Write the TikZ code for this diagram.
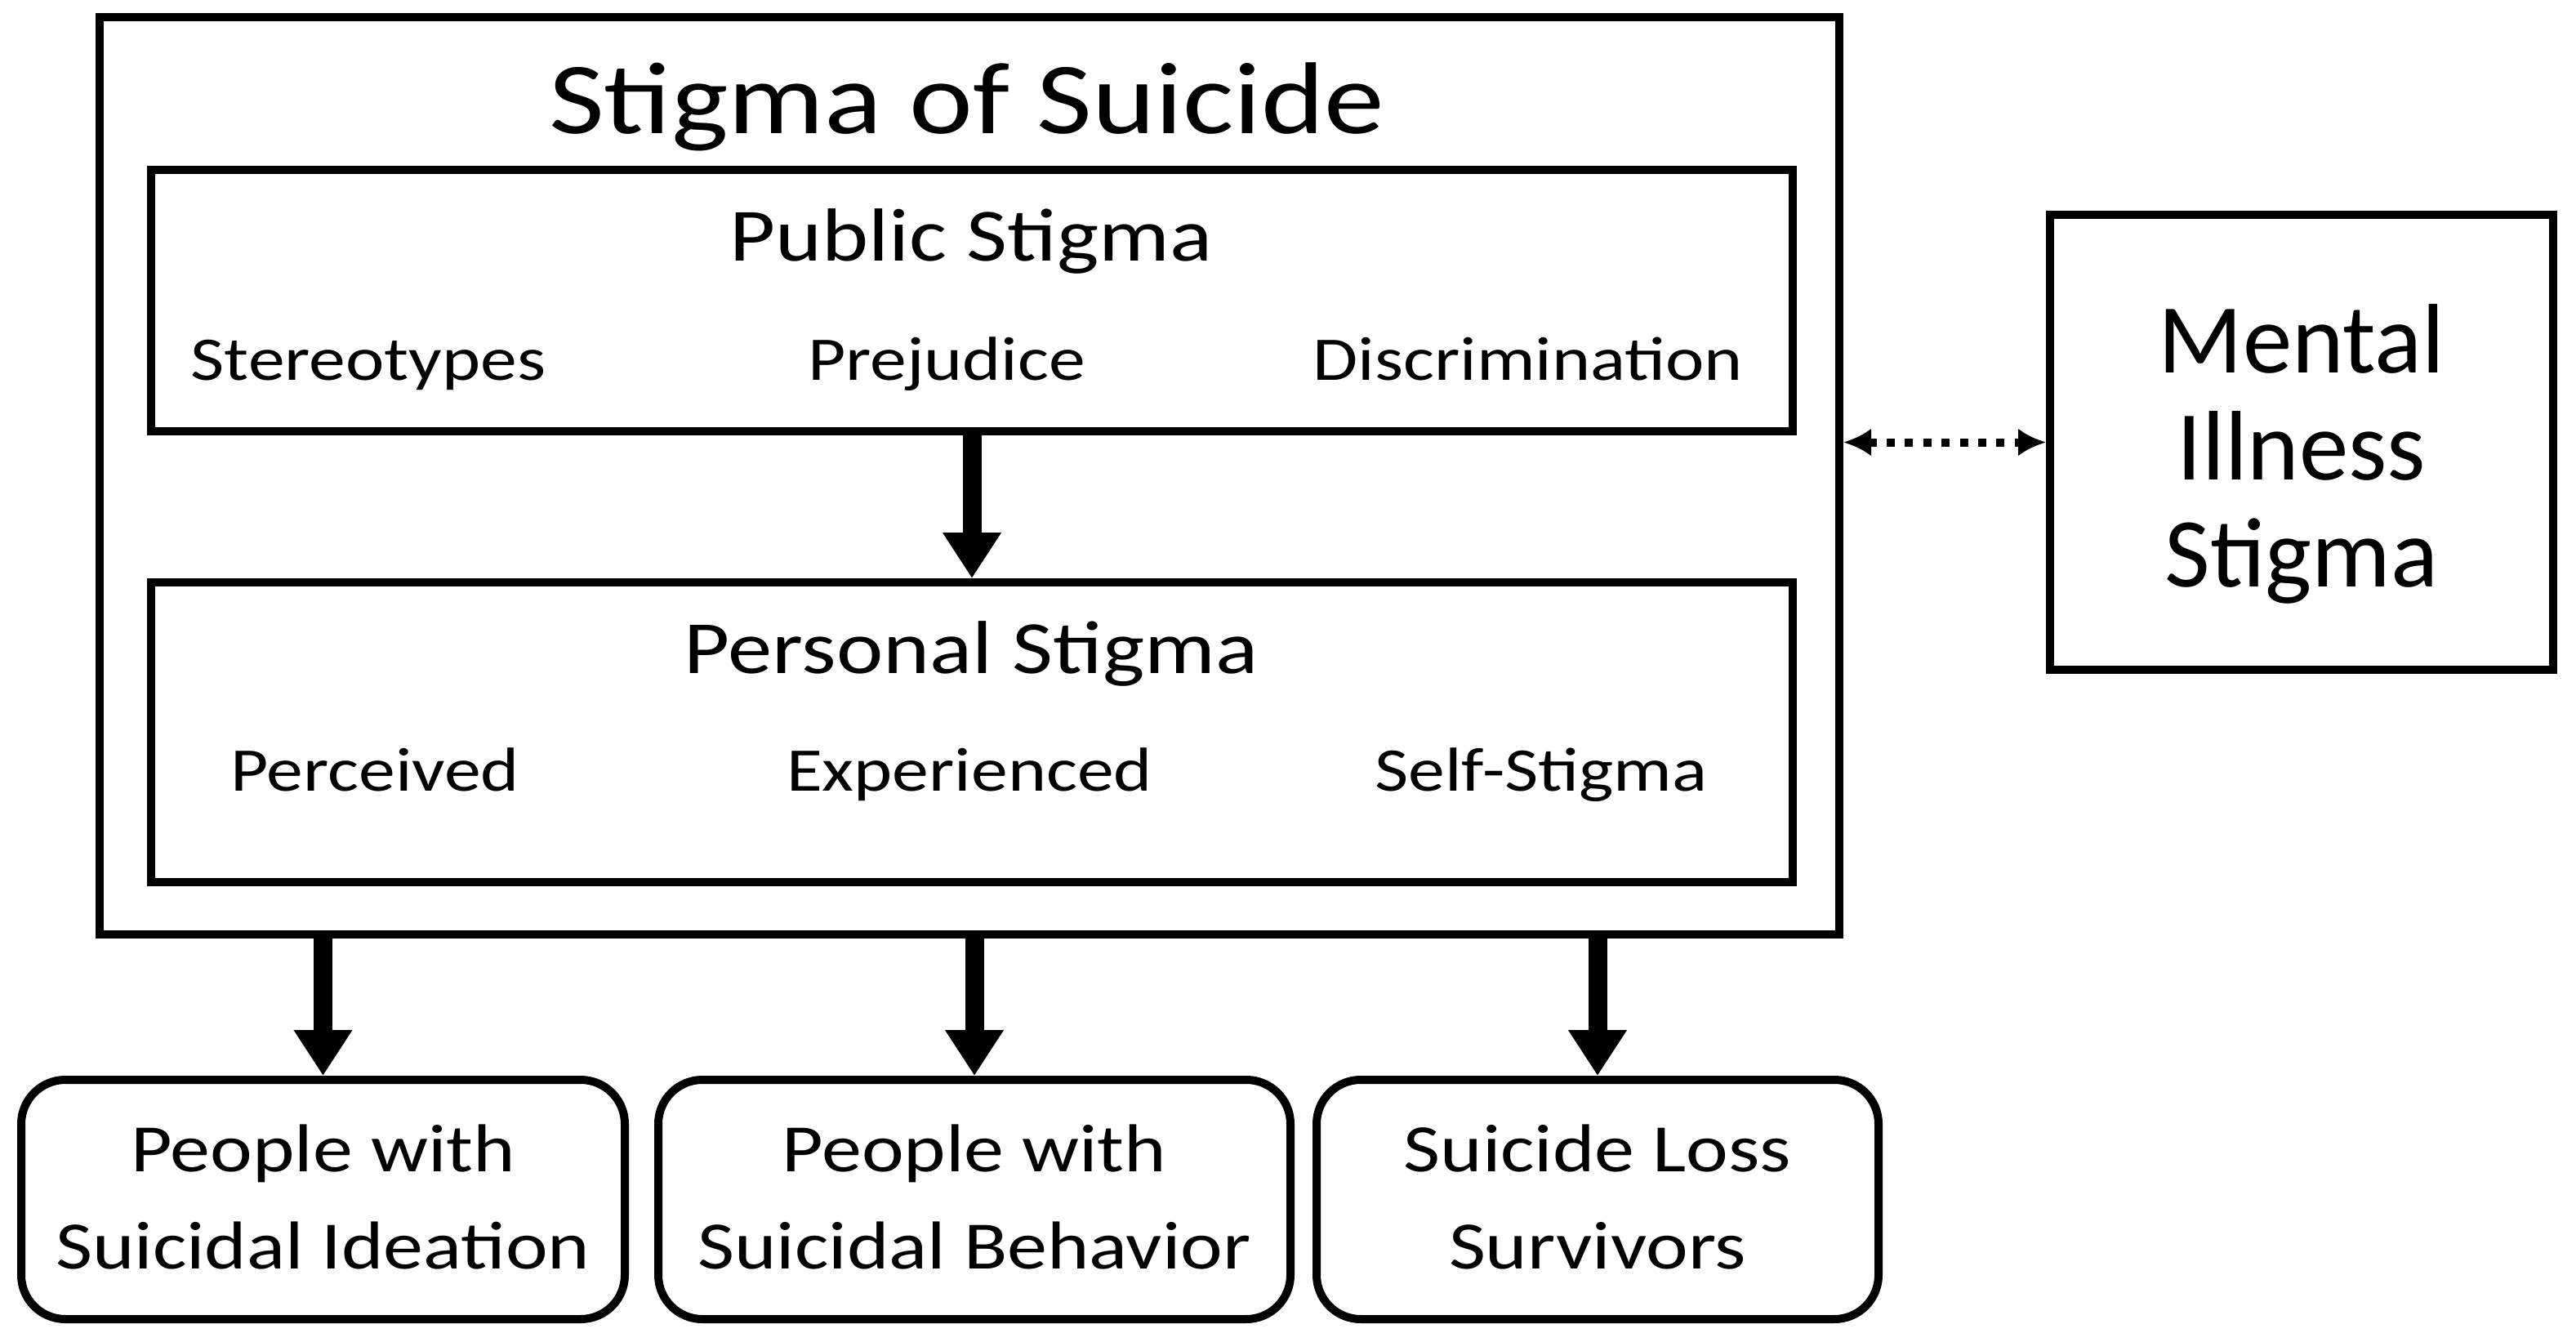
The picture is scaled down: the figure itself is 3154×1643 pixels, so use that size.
\documentclass[tikz,border=0pt]{standalone}
\usepackage{fontspec}
\setmainfont{Carlito}[FakeStretch=1.18]
\newfontfamily\mentalfont{Carlito}
\usetikzlibrary{arrows.meta}
\begin{document}
\begin{tikzpicture}[x=0.5pt,y=-0.5pt,
  sqbox/.style={draw=black, line width=5pt, inner sep=0pt},
  rbox/.style={sqbox, rounded corners=27pt},
  bigarrow/.style={line width=11.5pt, -{Triangle[width=34pt,length=28pt]}},
  dotarrow/.style={line width=5pt, dash pattern=on 5pt off 6.2pt,
     {Latex[length=17pt,width=17pt]}-{Latex[length=17pt,width=17pt]}},
  titletxt/.style={anchor=base, inner sep=0pt, font=\fontsize{62.5}{70}\selectfont},
  headtxt/.style={anchor=base, inner sep=0pt, font=\fontsize{46}{55}\selectfont},
  itemtxt/.style={anchor=base, inner sep=0pt, font=\fontsize{38}{45}\selectfont},
  btxt/.style={anchor=base, inner sep=0pt, font=\fontsize{41.5}{59}\selectfont},
  mtxt/.style={anchor=base, inner sep=0pt, font=\mentalfont\fontsize{60.5}{65.5}\selectfont},
]
\path[use as bounding box, fill=white] (0,0) rectangle (3154,1643);

% boxes
\node (outer) [sqbox, minimum width=2130*0.5pt, minimum height=1123*0.5pt] at (1187,582.5) {};
\node (public) [sqbox, minimum width=2010*0.5pt, minimum height=320*0.5pt] at (1190,368) {};
\node (personal) [sqbox, minimum width=2010*0.5pt, minimum height=367*0.5pt] at (1190,896.5) {};
\node (mental) [sqbox, minimum width=616*0.5pt, minimum height=557*0.5pt] at (2818,541.5) {};
\node (b1) [rbox, minimum width=739*0.5pt, minimum height=293*0.5pt] at (395.5,1468.5) {};
\node (b2) [rbox, minimum width=774*0.5pt, minimum height=293*0.5pt] at (1193,1468.5) {};
\node (b3) [rbox, minimum width=688*0.5pt, minimum height=293*0.5pt] at (1956,1468.5) {};

% texts
\node (title) [titletxt] at (1184,163) {Stigma of Suicide};
\node (pubtitle) [headtxt] at (1189,319) {Public Stigma};
\node (stereo) [itemtxt] at (451,465) {Stereotypes};
\node (prej) [itemtxt] at (1159,465) {Prejudice};
\node (discr) [itemtxt] at (1871,465) {Discrimination};
\node (pertitle) [headtxt] at (1189,824) {Personal Stigma};
\node (perc) [itemtxt] at (459,968) {Perceived};
\node (exper) [itemtxt] at (1187,968) {Experienced};
\node (self) [itemtxt] at (1887,968) {Self-Stigma};

\node (m1) [mtxt] at (2818,456) {Mental};
\node (m2) [mtxt] at (2818,587) {Illness};
\node (m3) [mtxt] at (2818,718) {Stigma};

\node (b1a) [btxt] at (395.5,1434) {People with};
\node (b1b) [btxt] at (395.5,1553) {Suicidal Ideation};
\node (b2a) [btxt] at (1193,1434) {People with};
\node (b2b) [btxt] at (1193,1553) {Suicidal Behavior};
\node (b3a) [btxt] at (1956,1434) {Suicide Loss};
\node (b3b) [btxt] at (1956,1553) {Survivors};

% connectors
\draw[bigarrow] (public) -- (personal);
\draw[bigarrow] (outer.south -| b1.north) -- (b1.north);
\draw[bigarrow] (outer.south -| b2.north) -- (b2.north);
\draw[bigarrow] (outer.south -| b3.north) -- (b3.north);
\draw[dotarrow] (outer.east |- mental.west) -- (mental.west);
\end{tikzpicture}
\end{document}
